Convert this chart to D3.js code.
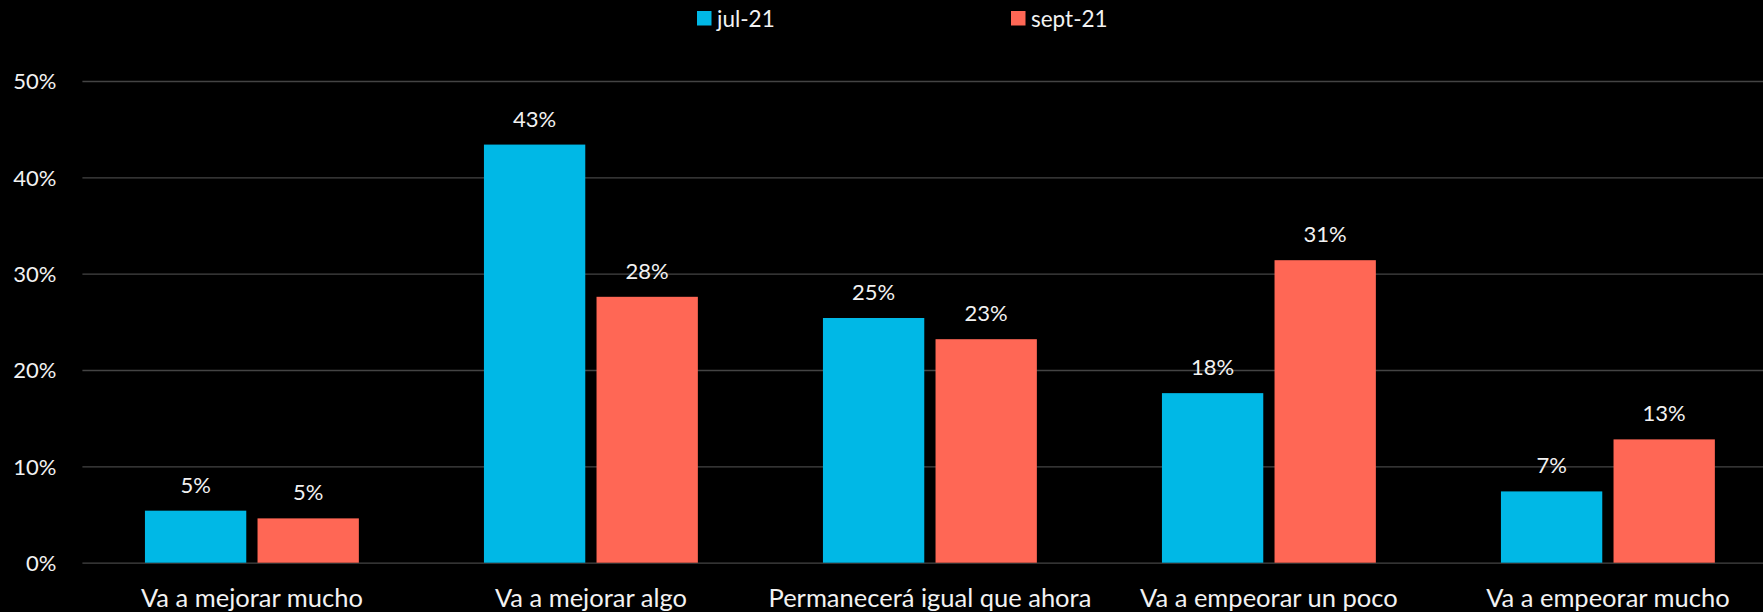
<!DOCTYPE html>
<html>
<head>
<meta charset="utf-8">
<script src="https://cdn.jsdelivr.net/npm/d3@7"></script>
<style>
  html, body { margin: 0; padding: 0; background: #000; }
  svg { display: block; }
  text { font-family: Lato, "Open Sans", sans-serif; fill: #f2f2f2; }
</style>
</head>
<body>
<svg id="chart" width="1763" height="612"></svg>
<script>
const categories = ["Va a mejorar mucho", "Va a mejorar algo", "Permanecerá igual que ahora", "Va a empeorar un poco", "Va a empeorar mucho"];
const seriesNames = ["jul-21", "sept-21"];
const jul21 = [5.4, 43.4, 25.4, 17.6, 7.4];
const sept21 = [4.6, 27.6, 23.2, 31.4, 12.8];
const yTicks = [0, 10, 20, 30, 40, 50];
const colors = ["#00B8E6", "#FF6755"];

const svg = d3.select("#chart");
const plotLeft = 82.4, plotRight = 1777.4;
const y0 = 562.7, y50 = 81;

const y = d3.scaleLinear().domain([0, 50]).range([y0, y50]);
const x = d3.scaleBand().domain(categories).range([plotLeft, plotRight]).paddingInner(0.369).paddingOuter(0.1845);
const x1 = d3.scaleBand().domain(seriesNames).range([0, x.bandwidth()]).paddingInner(0.1);

// gridlines
const yAxis = d3.axisLeft(y).tickValues(yTicks).tickSize(-(plotRight - plotLeft)).tickFormat(d => d + "%");
const gAxis = svg.append("g").attr("transform", `translate(${plotLeft},0)`).call(yAxis);
gAxis.select(".domain").remove();
gAxis.selectAll(".tick line").attr("stroke", "#444").attr("stroke-width", 1.3);
gAxis.selectAll(".tick text").attr("x", -26).attr("dy", "0.36em").style("font-size", "22px").attr("fill", "#f2f2f2");

const data = categories.map((c, i) => ({ cat: c, vals: [jul21[i], sept21[i]] }));

const groups = svg.append("g").selectAll("g").data(data).join("g")
  .attr("transform", d => `translate(${x(d.cat)},0)`);

groups.selectAll("rect").data(d => d.vals.map((v, j) => ({ v, s: seriesNames[j], j })))
  .join("rect")
  .attr("x", d => x1(d.s))
  .attr("width", x1.bandwidth())
  .attr("y", d => y(d.v))
  .attr("height", d => y0 - y(d.v))
  .attr("fill", d => colors[d.j]);

groups.selectAll("text.val").data(d => d.vals.map((v, j) => ({ v, s: seriesNames[j], j })))
  .join("text")
  .attr("class", "val")
  .attr("x", d => x1(d.s) + x1.bandwidth() / 2)
  .attr("y", d => y(d.v) - 18)
  .attr("text-anchor", "middle")
  .style("font-size", "22px")
  .text(d => Math.round(d.v) + "%");

// category labels
const xAxis = d3.axisBottom(x).tickSize(0);
const gx = svg.append("g").attr("transform", `translate(0,${y0})`).call(xAxis);
gx.select(".domain").remove();
gx.selectAll(".tick text").attr("y", 0).attr("dy", 0).attr("transform", "translate(0,44)")
  .style("font-size", "25.5px").attr("fill", "#f2f2f2");

// legend
const legendX = [697, 1011];
const legend = svg.append("g").selectAll("g").data(seriesNames).join("g")
  .attr("transform", (d, i) => `translate(${legendX[i]},11)`);
legend.append("rect").attr("width", 14.5).attr("height", 14.5).attr("fill", (d, i) => colors[i]);
legend.append("text").attr("x", 20).attr("y", 16).style("font-size", "22.5px").text(d => d);
</script>
</body>
</html>
